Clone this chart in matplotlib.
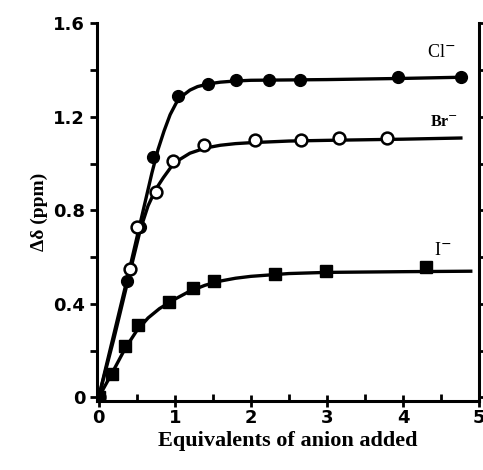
import matplotlib
matplotlib.use('Agg')
from matplotlib import pyplot as plt
from matplotlib.ticker import MultipleLocator

# measured points (equivalents added, shift in ppm)
cl_x = [0.0, 0.37, 0.54, 0.72, 1.04, 1.44, 1.81, 2.24, 2.64, 3.93, 4.76]
cl_y = [0.01, 0.50, 0.73, 1.03, 1.29, 1.34, 1.36, 1.36, 1.36, 1.37, 1.37]
br_x = [0.0, 0.41, 0.50, 0.76, 0.98, 1.39, 2.06, 2.66, 3.16, 3.79]
br_y = [0.0, 0.55, 0.73, 0.88, 1.01, 1.08, 1.10, 1.10, 1.11, 1.11]
i_x = [0.0, 0.17, 0.35, 0.52, 0.93, 1.24, 1.52, 2.32, 2.99, 4.30]
i_y = [0.0, 0.10, 0.22, 0.31, 0.41, 0.47, 0.50, 0.53, 0.54, 0.56]

# fitted curves
cl_fit_x = [0, 0.2, 0.4, 0.6, 0.7, 0.78, 0.86, 0.94, 1.02, 1.1, 1.2, 1.3, 1.45, 1.6, 1.8, 2.0, 3.0, 4.0, 4.76]
cl_fit_y = [0, 0.27, 0.54, 0.82, 0.96, 1.06, 1.14, 1.21, 1.26, 1.29, 1.315, 1.33, 1.342, 1.349, 1.354, 1.357, 1.36, 1.365, 1.37]
br_fit_x = [0, 0.2, 0.4, 0.55, 0.65, 0.75, 0.85, 0.95, 1.05, 1.2, 1.4, 1.6, 1.8, 2.0, 2.5, 3.0, 4.0, 4.76]
br_fit_y = [0, 0.25, 0.52, 0.72, 0.82, 0.89, 0.94, 0.985, 1.015, 1.045, 1.067, 1.079, 1.086, 1.09, 1.097, 1.10, 1.105, 1.11]
i_fit_x = [0, 0.17, 0.35, 0.5, 0.65, 0.8, 1.0, 1.2, 1.4, 1.6, 1.8, 2.0, 2.5, 3.0, 4.0, 4.89]
i_fit_y = [0, 0.10, 0.21, 0.285, 0.34, 0.38, 0.42, 0.455, 0.48, 0.498, 0.51, 0.518, 0.53, 0.535, 0.538, 0.54]

fig = plt.figure(figsize=(4.83, 4.70), dpi=100)
ax = fig.add_axes([0.201, 0.147, 0.791, 0.803])

ax.plot(cl_fit_x, cl_fit_y, color='black', lw=2.4, solid_joinstyle='round')
ax.plot(br_fit_x, br_fit_y, color='black', lw=2.4, solid_joinstyle='round')
ax.plot(i_fit_x, i_fit_y, color='black', lw=2.4, solid_joinstyle='round')

ax.plot(cl_x, cl_y, 'o', ms=8.5, color='black', zorder=3)
ax.plot(br_x, br_y, 'o', ms=8.5, mfc='white', mec='black', mew=1.8, zorder=3)
ax.plot(i_x, i_y, 's', ms=8, color='black', zorder=3)

serif = ['Liberation Serif', 'DejaVu Serif']
ax.text(4.50, 1.475, 'Cl$^{-}$', fontsize=13, family=serif, ha='center', va='center')
ax.text(4.54, 1.18, 'Br$^{-}$', fontsize=11.5, family=serif, fontweight='bold', ha='center', va='center')
ax.text(4.52, 0.63, 'I$^{-}$', fontsize=13, family=serif, ha='center', va='center')

ax.set_xlim(-0.02, 5)
ax.set_ylim(-0.015, 1.6)
ax.xaxis.set_major_locator(MultipleLocator(1))
ax.xaxis.set_minor_locator(MultipleLocator(0.5))
ax.yaxis.set_minor_locator(MultipleLocator(0.2))
ax.set_yticks([0, 0.4, 0.8, 1.2, 1.6])
ax.set_yticklabels(['0', '0.4', '0.8', '1.2', '1.6'])

ax.spines['top'].set_visible(False)
for s in ax.spines.values():
    s.set_linewidth(2.2)
ax.tick_params(axis='x', which='major', direction='inout', length=8, width=2, labelsize=13, pad=2)
ax.tick_params(axis='x', which='minor', direction='in', length=5, width=2)
ax.tick_params(axis='y', which='both', direction='out', length=5, width=2, labelsize=13)
ax.tick_params(axis='y', which='both', right=True)
for lab in ax.get_xticklabels() + ax.get_yticklabels():
    lab.set_fontweight('bold')

ax.set_xlabel('Equivalents of anion added', fontsize=16, family=serif, fontweight='bold', labelpad=3)
ax.set_ylabel('Δδ (ppm)', fontsize=14, family=serif, fontweight='bold', labelpad=4)

fig.savefig('out.png', dpi=100)
